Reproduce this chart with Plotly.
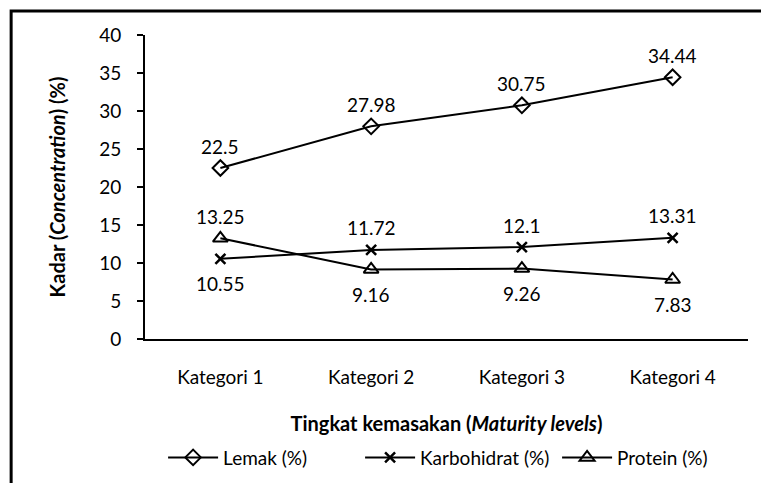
import plotly.graph_objects as go

# Data
categories = ["Kategori 1", "Kategori 2", "Kategori 3", "Kategori 4"]
lemak = [22.5, 27.98, 30.75, 34.44]
karbohidrat = [10.55, 11.72, 12.1, 13.31]
protein = [13.25, 9.16, 9.26, 7.83]
y_ticks = [0, 5, 10, 15, 20, 25, 30, 35, 40]

# Which side of the point each value label sits on (+1 above, -1 below)
lemak_side = [1, 1, 1, 1]
karbohidrat_side = [-1, 1, 1, 1]
protein_side = [1, -1, -1, -1]

FONT = "Lato, Open Sans, sans-serif"
LABEL_SIZE = 19

series = [
    ("Lemak (%)", lemak, lemak_side, dict(symbol="diamond-open", size=12)),
    ("Karbohidrat (%)", karbohidrat, karbohidrat_side, dict(symbol="x-thin-open", size=10)),
    ("Protein (%)", protein, protein_side, dict(symbol="triangle-up-open", size=13)),
]

fig = go.Figure()

for name, values, sides, mk in series:
    fig.add_trace(go.Scatter(
        x=categories, y=values, name=name, mode="lines+markers",
        line=dict(color="black", width=2),
        marker=dict(color="black", line=dict(width=2.5 if "x" in mk["symbol"] else 2, color="black"), **mk),
    ))
    # value labels above / below each point
    for cat, v, s in zip(categories, values, sides):
        fig.add_annotation(
            x=cat, y=v, text=f"{v:g}", showarrow=False,
            yanchor="middle", yshift=22 if s > 0 else -25,
            font=dict(size=LABEL_SIZE, color="black", family=FONT),
        )

# Outer frame (left and top edges)
fig.add_shape(type="path", xref="paper", yref="paper",
              path="M -0.222,-0.48 L -0.222,1.079 L 1.03,1.079",
              line=dict(color="black", width=3))

fig.update_layout(
    width=761, height=483,
    margin=dict(l=145, r=13, t=35, b=144, autoexpand=False),
    paper_bgcolor="white", plot_bgcolor="white",
    font=dict(family=FONT, size=19, color="black"),
    showlegend=True,
    legend=dict(orientation="h", x=0.03, xanchor="left", y=-0.39, yanchor="middle",
                font=dict(size=19), itemwidth=50, traceorder="normal",
                entrywidth=132, entrywidthmode="pixels"),
    xaxis=dict(
        range=[-0.5, 3.5],
        showline=True, linecolor="black", linewidth=2, ticks="",
        showgrid=False, zeroline=False, ticklabelstandoff=20,
        title=dict(text="<b>Tingkat kemasakan (<i>Maturity levels</i>)</b>", font=dict(size=20), standoff=30),
        tickfont=dict(size=19),
    ),
    yaxis=dict(
        range=[0, 40], tickvals=y_ticks, showline=True, linecolor="black", linewidth=2,
        ticks="outside", ticklen=6, tickwidth=2, tickcolor="black",
        showgrid=False, zeroline=False, ticklabelstandoff=12,
        title=dict(text="<b>Kadar (<i>Concentration</i>) (%)</b>", font=dict(size=20), standoff=28),
        tickfont=dict(size=19),
    ),
)

fig.write_html("out.html")
